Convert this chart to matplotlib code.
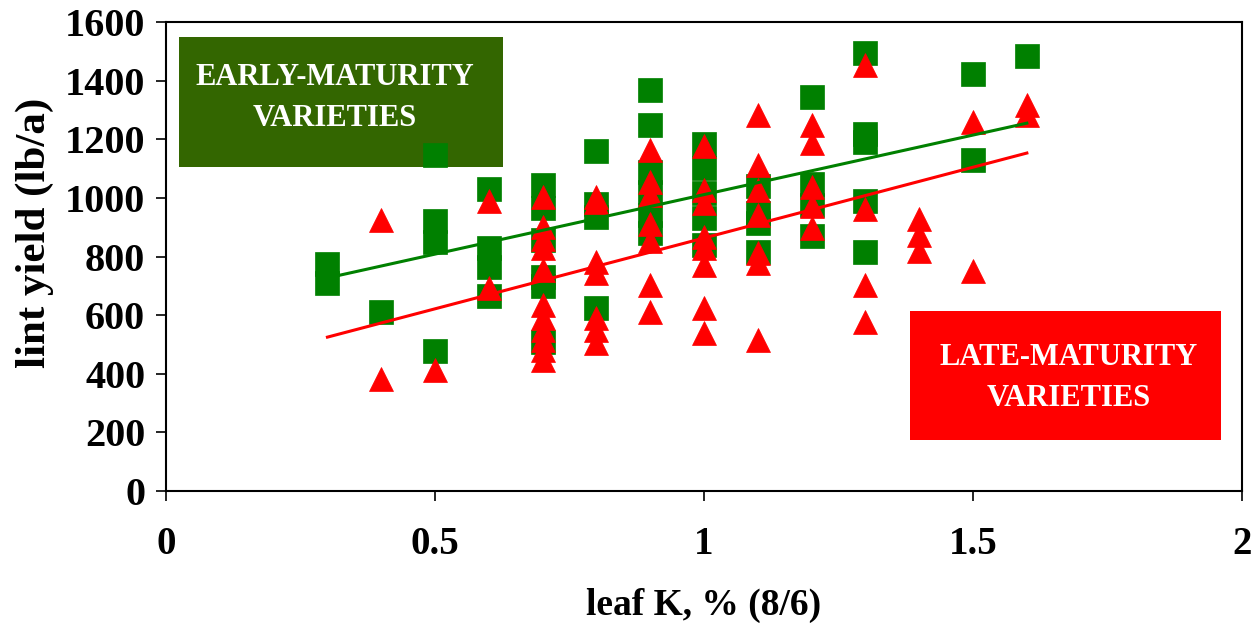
import matplotlib
matplotlib.use("Agg")
import matplotlib.pyplot as plt
from matplotlib.patches import Rectangle

plt.rcParams['font.family'] = ['Liberation Serif', 'DejaVu Serif']
plt.rcParams['font.weight'] = 'bold'
plt.rcParams['axes.labelweight'] = 'bold'

# early-maturity varieties (squares)
early_x = [0.3, 0.3, 0.4,
           0.5, 0.5, 0.5, 0.5,
           0.6, 0.6, 0.6, 0.6,
           0.7, 0.7, 0.7, 0.7, 0.7, 0.7,
           0.8, 0.8, 0.8, 0.8,
           0.9, 0.9, 0.9, 0.9, 0.9, 0.9,
           1.0, 1.0, 1.0, 1.0, 1.0,
           1.1, 1.1, 1.1, 1.1,
           1.2, 1.2, 1.2, 1.2,
           1.3, 1.3, 1.3, 1.3, 1.3,
           1.5, 1.5, 1.6]
early_y = [775, 710, 610,
           1145, 920, 850, 478,
           1030, 830, 765, 665,
           1045, 965, 855, 730, 700, 510,
           1160, 980, 935, 624,
           1368, 1249, 1088, 1020, 940, 880,
           1184, 1102, 1017, 931, 839,
           1041, 948, 914, 815,
           1344, 1047, 976, 870,
           1494, 1218, 1191, 990, 815,
           1423, 1129, 1484]

# late-maturity varieties (triangles)
late_x = [0.4, 0.4, 0.5,
          0.6, 0.6,
          0.7, 0.7, 0.7, 0.7, 0.7, 0.7, 0.7, 0.7, 0.7, 0.7, 0.7,
          0.8, 0.8, 0.8, 0.8, 0.8, 0.8, 0.8,
          0.9, 0.9, 0.9, 0.9, 0.9, 0.9, 0.9,
          1.0, 1.0, 1.0, 1.0, 1.0, 1.0, 1.0, 1.0,
          1.1, 1.1, 1.1, 1.1, 1.1, 1.1, 1.1,
          1.2, 1.2, 1.2, 1.2, 1.2,
          1.3, 1.3, 1.3, 1.3,
          1.4, 1.4, 1.4,
          1.5, 1.5,
          1.6, 1.6]
late_y = [925, 382, 413,
          990, 693,
          1003, 900, 860, 830, 754, 635, 590, 550, 515, 480, 447,
          1003, 985, 781, 744, 590, 550, 505,
          1163, 1054, 1010, 911, 853, 703, 611,
          1177, 1027, 983, 866, 829, 771, 624, 539,
          1283, 1112, 1027, 942, 812, 778, 515,
          1249, 1187, 1037, 972, 897,
          1453, 962, 703, 577,
          928, 873, 819,
          1260, 750,
          1317, 1283]

# linear trend lines
trend_x = [0.3, 1.6]
early_trend = [727, 1255]
late_trend = [525, 1153]

green = '#008000'
red = '#FF0000'

fig = plt.figure(figsize=(12.56, 6.33), dpi=100)
ax = fig.add_axes([0.1322, 0.2243, 0.8567, 0.7409])

# labelled boxes sit under the markers
ax.add_patch(Rectangle((0.012, 0.691), 0.301, 0.277, transform=ax.transAxes,
                       facecolor='#336600', edgecolor='none', zorder=1))
ax.text(0.157, 0.838, 'EARLY-MATURITY\nVARIETIES', transform=ax.transAxes,
        ha='center', va='center', color='white', fontsize=22,
        linespacing=1.55, zorder=2)

ax.add_patch(Rectangle((0.691, 0.109), 0.289, 0.275, transform=ax.transAxes,
                       facecolor=red, edgecolor='none', zorder=1))
ax.text(0.839, 0.241, 'LATE-MATURITY\nVARIETIES', transform=ax.transAxes,
        ha='center', va='center', color='white', fontsize=22,
        linespacing=1.55, zorder=2)

ax.plot(early_x, early_y, 's', color=green, ms=17, mec=green, mew=0.5, zorder=3)
ax.plot(late_x, late_y, '^', color=red, ms=17, mec=red, mew=0.5, zorder=4)
ax.plot(trend_x, early_trend, color=green, lw=2.2, zorder=5)
ax.plot(trend_x, late_trend, color=red, lw=2.2, zorder=5)

ax.set_xlim(0, 2)
ax.set_ylim(0, 1600)
ax.set_xticks([0, 0.5, 1, 1.5, 2])
ax.set_xticklabels(['0', '0.5', '1', '1.5', '2'])
ax.set_yticks(range(0, 1601, 200))
ax.tick_params(direction='out', length=7, width=1.2, labelsize=29)
ax.tick_params(axis='x', pad=18, labelsize=28)
ax.tick_params(axis='y', pad=8)
for s in ax.spines.values():
    s.set_linewidth(1.5)

ax.set_xlabel('leaf K, % (8/6)', fontsize=27, labelpad=18)
ax.set_ylabel('lint yield (lb/a)', fontsize=31)
ax.yaxis.set_label_coords(-0.104, 0.55)

fig.savefig('out.png', dpi=100)
